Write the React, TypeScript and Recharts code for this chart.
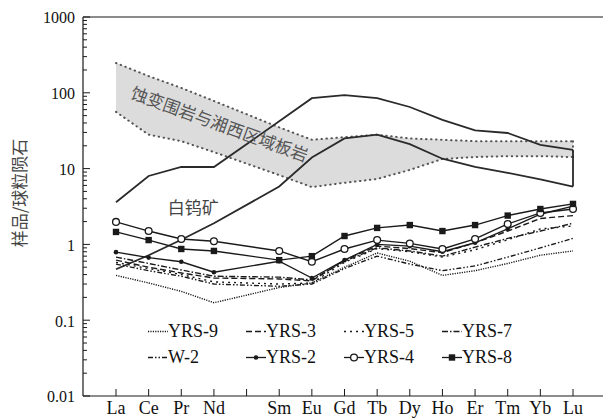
import {
  ComposedChart,
  Area,
  Line,
  XAxis,
  YAxis,
  ReferenceLine,
  ReferenceDot,
  Legend,
} from 'recharts'

// x axis has a slot for Pm, which has no data
const axisCats = ['La', 'Ce', 'Pr', 'Nd', 'Pm', 'Sm', 'Eu', 'Gd', 'Tb', 'Dy', 'Ho', 'Er', 'Tm', 'Yb', 'Lu']
const xTickLabels = ['La', 'Ce', 'Pr', 'Nd', '', 'Sm', 'Eu', 'Gd', 'Tb', 'Dy', 'Ho', 'Er', 'Tm', 'Yb', 'Lu']
const elements = ['La', 'Ce', 'Pr', 'Nd', 'Sm', 'Eu', 'Gd', 'Tb', 'Dy', 'Ho', 'Er', 'Tm', 'Yb', 'Lu']

const majorTicks = [0.01, 0.1, 1, 10, 100, 1000]
const majorLabels = ['0.01', '0.1', '1', '10', '100', '1000']

// wall rock / regional slate envelope
const bandHigh = [247, 166, 116, 78, 35, 24, 26, 28, 25, 24, 23, 23, 23, 23]
const bandLow = [56, 28, 23, 16.5, 8.2, 5.7, 6.5, 7.3, 9.6, 13.4, 14.2, 14.6, 14.6, 14.2]

// scheelite envelope
const scheeliteHigh = [3.6, 8, 10.5, 10.5, 42, 85, 93, 85, 65, 44, 32, 29.5, 20.5, 17.7]
const scheeliteLow = [0.47, 0.72, 1.15, 1.9, 5.8, 14, 25, 28, 21, 13.5, 10.5, 8.8, 7.2, 5.8]

const yrs9 = [0.39, 0.31, 0.24, 0.17, 0.27, 0.31, 0.5, 0.77, 0.6, 0.39, 0.45, 0.56, 0.72, 0.82]
const yrs3 = [0.62, 0.5, 0.42, 0.36, 0.35, 0.33, 0.62, 0.95, 0.88, 0.78, 1.05, 1.5, 2.2, 2.4]
const yrs5 = [0.58, 0.48, 0.4, 0.32, 0.3, 0.31, 0.58, 0.88, 0.8, 0.68, 0.85, 1.15, 1.6, 1.75]
const yrs7 = [0.68, 0.56, 0.46, 0.38, 0.37, 0.34, 0.6, 0.9, 0.82, 0.7, 0.92, 1.2, 1.5, 1.9]
const w2 = [0.55, 0.45, 0.38, 0.3, 0.28, 0.3, 0.48, 0.7, 0.55, 0.45, 0.52, 0.68, 0.9, 1.2]
const yrs2 = [0.79, 0.67, 0.59, 0.43, 0.6, 0.36, 0.62, 1.0, 0.95, 0.8, 1.05, 1.6, 2.5, 3.2]
const yrs4 = [1.98, 1.5, 1.18, 1.1, 0.82, 0.59, 0.87, 1.14, 1.03, 0.87, 1.18, 1.86, 2.6, 2.93]
const yrs8 = [1.46, 1.14, 0.87, 0.82, 0.62, 0.7, 1.29, 1.65, 1.8, 1.5, 1.8, 2.4, 2.93, 3.42]

const samples = [
  { key: 'yrs9', name: 'YRS-9', values: yrs9, dash: '1.2 1.2', marker: '' },
  { key: 'yrs3', name: 'YRS-3', values: yrs3, dash: '6 3', marker: '' },
  { key: 'yrs5', name: 'YRS-5', values: yrs5, dash: '2 4', marker: '' },
  { key: 'yrs7', name: 'YRS-7', values: yrs7, dash: '6 2 1.5 2', marker: '' },
  { key: 'w2', name: 'W-2', values: w2, dash: '5 2 1.5 2 1.5 2', marker: '' },
  { key: 'yrs2', name: 'YRS-2', values: yrs2, dash: '', marker: 'dot' },
  { key: 'yrs4', name: 'YRS-4', values: yrs4, dash: '', marker: 'circle' },
  { key: 'yrs8', name: 'YRS-8', values: yrs8, dash: '', marker: 'square' },
]

const minorTicks: number[] = []
majorTicks.slice(0, -1).forEach((m) => {
  for (let k = 2; k < 10; k++) minorTicks.push(m * k)
})
const allTicks = [...majorTicks, ...minorTicks]

const rows = axisCats.map((cat) => {
  const i = elements.indexOf(cat)
  const pick = (arr: number[]) => (i < 0 ? null : arr[i])
  const row: any = {
    cat,
    bandHigh: pick(bandHigh),
    bandLow: pick(bandLow),
    schHigh: pick(scheeliteHigh),
    schLow: pick(scheeliteLow),
  }
  samples.forEach((s) => {
    row[s.key] = pick(s.values)
  })
  return row
})

const INK = '#1a1a1a'
const serif = '"Liberation Serif", "Times New Roman", serif'
const cjk = '"Noto Sans CJK SC", sans-serif'

function Marker({ type, cx, cy }: { type: string; cx: number; cy: number }) {
  if (type === 'dot') return <circle cx={cx} cy={cy} r={2.3} fill={INK} />
  if (type === 'circle')
    return <circle cx={cx} cy={cy} r={3.4} fill="#fff" stroke={INK} strokeWidth={1.3} />
  if (type === 'square')
    return <rect x={cx - 3.2} y={cy - 3.2} width={6.4} height={6.4} fill={INK} />
  return null
}

function YTick({ x, y, payload }: any) {
  const i = majorTicks.indexOf(payload.value)
  const major = i >= 0
  return (
    <g>
      <line x1={x} x2={x + (major ? 7 : 4)} y1={y} y2={y} stroke={INK} strokeWidth={1} />
      {major && (
        <text x={x - 8} y={y} dy="0.4em" textAnchor="end" fontFamily={serif} fontSize={16} fill="#111">
          {majorLabels[i]}
        </text>
      )}
    </g>
  )
}

function XTick({ x, y, payload, index }: any) {
  return (
    <g>
      <line x1={x} x2={x} y1={y} y2={y - 7} stroke={INK} strokeWidth={1} />
      <text x={x} y={y + 18} textAnchor="middle" fontFamily={serif} fontSize={18} fill="#111">
        {xTickLabels[index] ?? payload.value}
      </text>
    </g>
  )
}

function LegendBox() {
  return (
    <div style={{ position: 'relative', width: 420, height: 52 }}>
      {samples.map((s, i) => {
        const col = i % 4
        const row = Math.floor(i / 4)
        return (
          <div
            key={s.key}
            style={{
              position: 'absolute',
              left: col * 98,
              top: row * 25.5,
              display: 'flex',
              alignItems: 'center',
              height: 18,
              fontFamily: serif,
              fontSize: 18,
              lineHeight: '18px',
              color: '#111',
            }}
          >
            <svg width={20} height={18}>
              <line
                x1={0}
                x2={20}
                y1={9.5}
                y2={9.5}
                stroke={INK}
                strokeWidth={1.3}
                strokeDasharray={s.dash || undefined}
              />
              <Marker type={s.marker} cx={10} cy={9.5} />
            </svg>
            <span>{s.name}</span>
          </div>
        )
      })}
    </div>
  )
}

const bandText = '蚀变围岩与湘西区域板岩'
const scheeliteText = '白钨矿'

export default function App() {
  return (
    <div style={{ position: 'absolute', left: 0, top: 0 }}>
      <ComposedChart width={603} height={418} data={rows} margin={{ top: 17, right: 0, left: 0, bottom: 0 }}>
        <XAxis
          dataKey="cat"
          scale="point"
          padding={{ left: 33, right: 30 }}
          interval={0}
          tickLine={false}
          tickSize={0}
          tickMargin={0}
          tick={<XTick />}
          axisLine={{ stroke: INK, strokeWidth: 1.2 }}
          height={22}
        />
        <YAxis
          type="number"
          scale="log"
          domain={[0.01, 1000]}
          allowDataOverflow
          ticks={allTicks}
          interval={0}
          width={83}
          tickLine={false}
          tickSize={0}
          tickMargin={0}
          tick={<YTick />}
          axisLine={{ stroke: INK, strokeWidth: 1.2 }}
          label={{
            content: (p: any) => {
              const vb = p.viewBox || { x: 0 }
              const x = vb.x + 18
              const y = 193
              return (
                <text
                  x={x}
                  y={y}
                  transform={`rotate(-90 ${x} ${y})`}
                  textAnchor="middle"
                  dominantBaseline="central"
                  fontFamily={cjk}
                  fontSize={17}
                  fill="#444"
                >
                  样品/球粒陨石
                </text>
              )
            },
          }}
        />
        <ReferenceLine y={1000} stroke={INK} strokeWidth={1.2} ifOverflow="visible" />

        <Area
          dataKey={(d: any) => (d.bandLow == null ? null : [d.bandLow, d.bandHigh])}
          fill="#dcdcdc"
          fillOpacity={1}
          stroke="none"
          connectNulls
          isAnimationActive={false}
          legendType="none"
          activeDot={false}
        />
        <Line dataKey="bandHigh" stroke="#555" strokeWidth={2} strokeDasharray="0.5 4.5" strokeLinecap="round" dot={false} activeDot={false} connectNulls isAnimationActive={false} legendType="none" />
        <Line dataKey="bandLow" stroke="#555" strokeWidth={2} strokeDasharray="0.5 4.5" strokeLinecap="round" dot={false} activeDot={false} connectNulls isAnimationActive={false} legendType="none" />
        <ReferenceLine
          segment={[{ x: 'La', y: bandHigh[0] }, { x: 'La', y: bandLow[0] }]}
          stroke="#555"
          strokeWidth={2}
          strokeDasharray="0.5 4.5"
          strokeLinecap="round"
        />
        <ReferenceLine
          segment={[{ x: 'Lu', y: bandHigh[13] }, { x: 'Lu', y: bandLow[13] }]}
          stroke="#555"
          strokeWidth={2}
          strokeDasharray="0.5 4.5"
          strokeLinecap="round"
        />

        <Line dataKey="schHigh" stroke="#2a2a2a" strokeWidth={1.8} dot={false} activeDot={false} connectNulls isAnimationActive={false} legendType="none" />
        <Line dataKey="schLow" stroke="#2a2a2a" strokeWidth={1.8} dot={false} activeDot={false} connectNulls isAnimationActive={false} legendType="none" />
        <ReferenceLine segment={[{ x: 'La', y: scheeliteHigh[0] }, { x: 'La', y: scheeliteLow[0] }]} stroke="#2a2a2a" strokeWidth={1.8} />
        <ReferenceLine segment={[{ x: 'Lu', y: scheeliteHigh[13] }, { x: 'Lu', y: scheeliteLow[13] }]} stroke="#2a2a2a" strokeWidth={1.8} />

        {samples.map((s) => (
          <Line
            key={s.key}
            dataKey={s.key}
            name={s.name}
            stroke={INK}
            strokeWidth={1.4}
            strokeDasharray={s.dash || undefined}
            connectNulls
            isAnimationActive={false}
            activeDot={false}
            dot={
              s.marker
                ? (p: any) => (
                    <g key={`${s.key}-${p.index}`}>
                      {p.cy != null && <Marker type={s.marker} cx={p.cx} cy={p.cy} />}
                    </g>
                  )
                : false
            }
          />
        ))}

        <ReferenceDot
          x="Nd"
          y={40}
          r={0}
          fill="none"
          stroke="none"
          label={{
            content: (p: any) => {
              const vb = p.viewBox || { x: 0, y: 0 }
              const x = vb.x + 6
              const y = vb.y
              return (
                <text
                  x={x}
                  y={y}
                  transform={`rotate(20 ${x} ${y})`}
                  textAnchor="middle"
                  dominantBaseline="central"
                  fontFamily={cjk}
                  fontSize={17}
                  fill="#555"
                >
                  {bandText}
                </text>
              )
            },
          }}
        />
        <ReferenceDot
          x="Pr"
          y={3.2}
          r={0}
          fill="none"
          stroke="none"
          label={{
            content: (p: any) => {
              const vb = p.viewBox || { x: 0, y: 0 }
              return (
                <text
                  x={vb.x + 12}
                  y={vb.y}
                  textAnchor="middle"
                  dominantBaseline="central"
                  fontFamily={cjk}
                  fontSize={17}
                  fill="#444"
                >
                  {scheeliteText}
                </text>
              )
            },
          }}
        />

        <Legend
          layout="horizontal"
          verticalAlign="middle"
          align="center"
          content={() => <LegendBox />}
          wrapperStyle={{ left: 148, top: 322, width: 420, height: 52 }}
        />
      </ComposedChart>
    </div>
  )
}
